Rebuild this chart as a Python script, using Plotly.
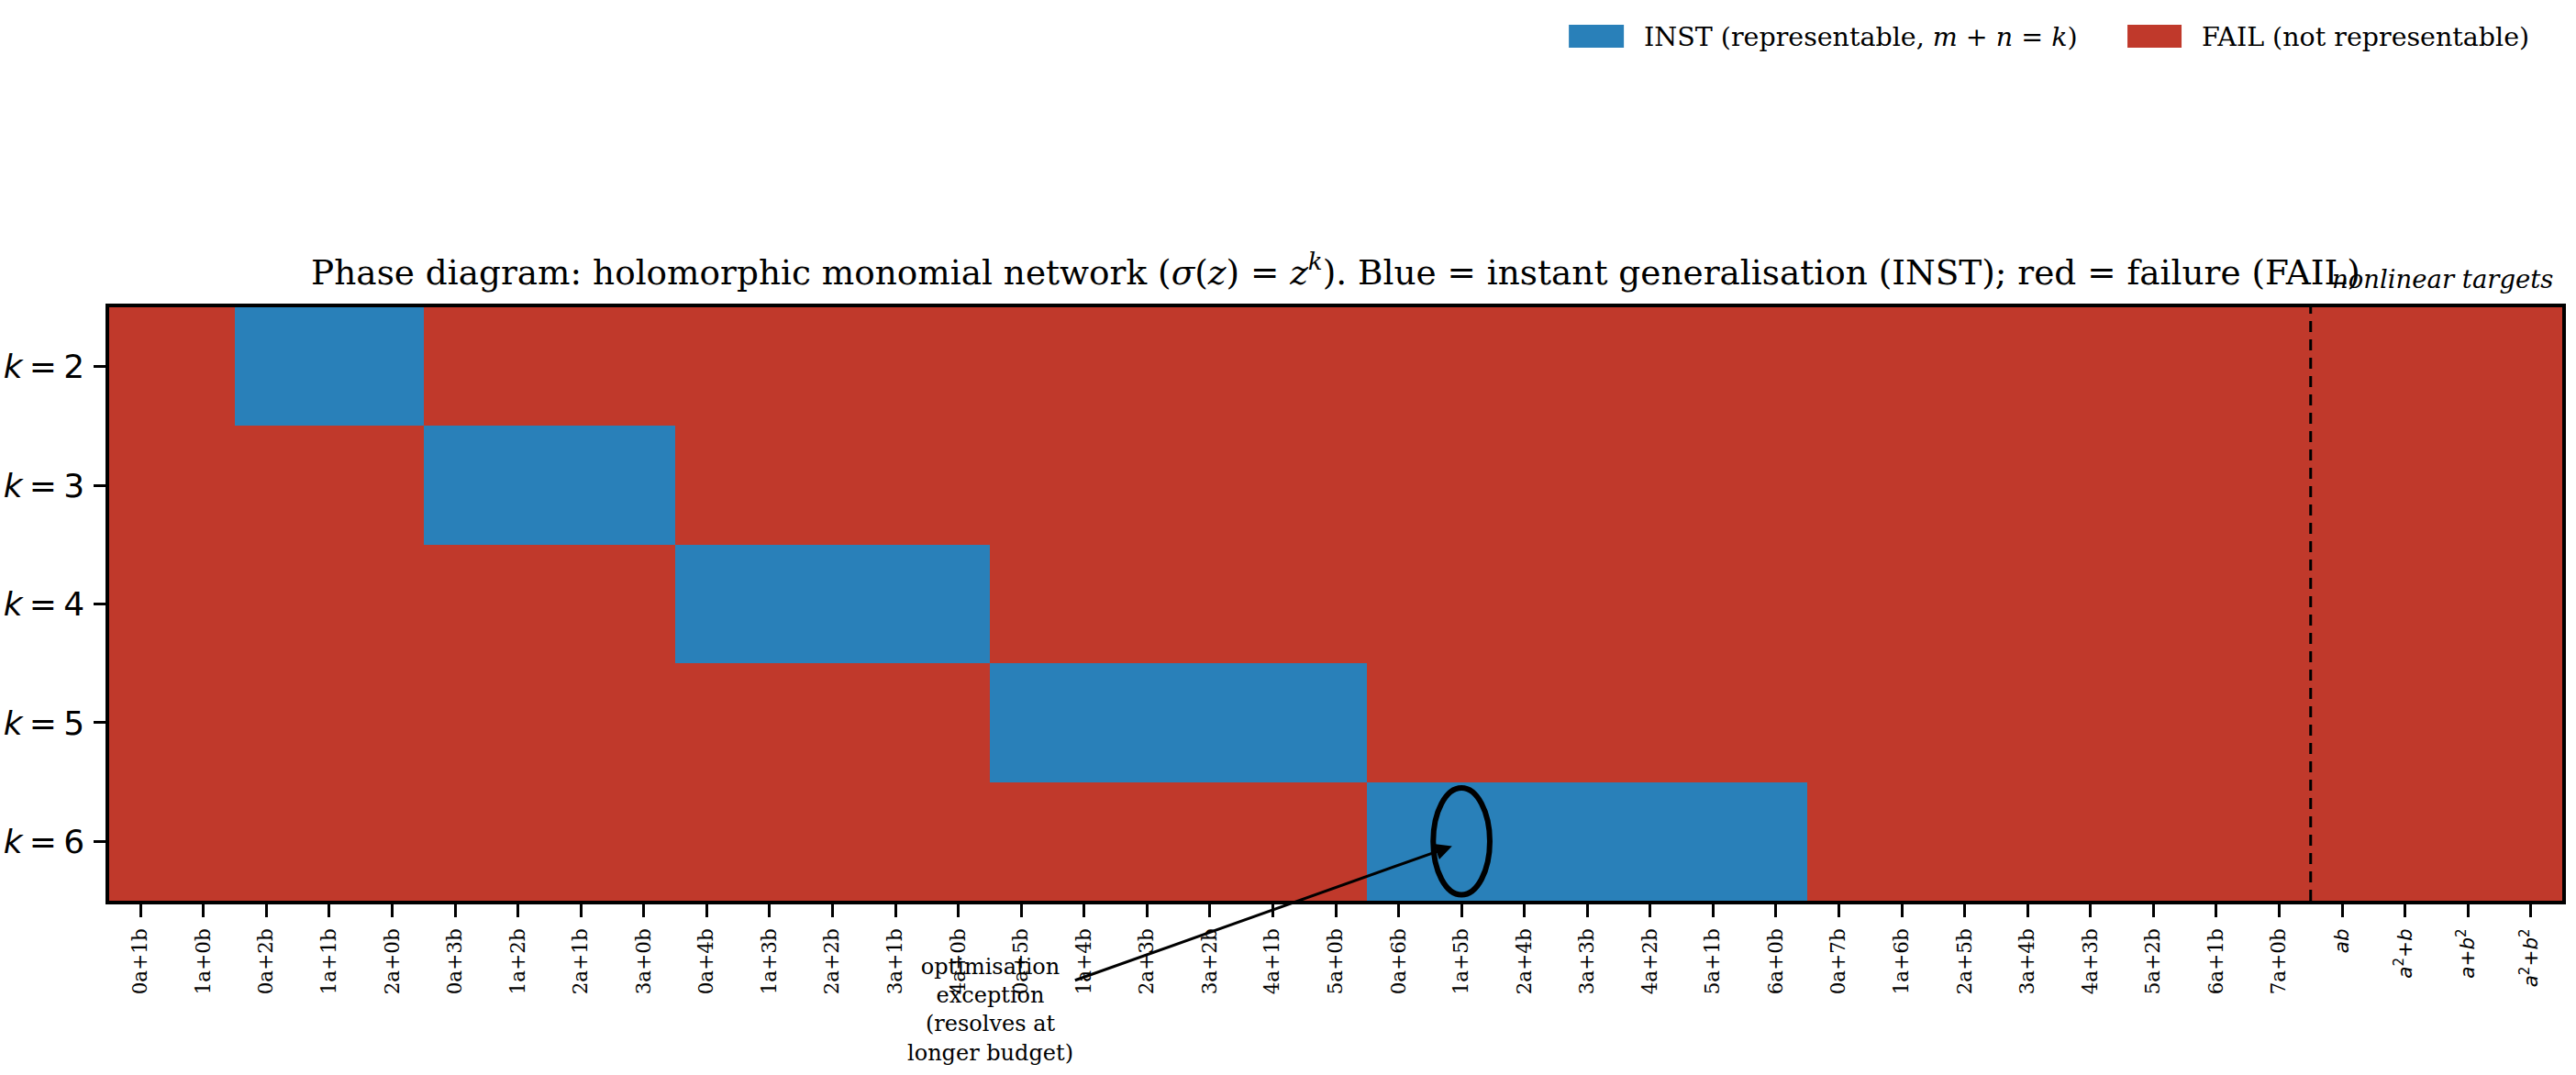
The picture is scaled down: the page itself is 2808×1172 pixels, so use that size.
import plotly.graph_objects as go

# ---- data ----
columns = ["0a+1b", "1a+0b",
           "0a+2b", "1a+1b", "2a+0b",
           "0a+3b", "1a+2b", "2a+1b", "3a+0b",
           "0a+4b", "1a+3b", "2a+2b", "3a+1b", "4a+0b",
           "0a+5b", "1a+4b", "2a+3b", "3a+2b", "4a+1b", "5a+0b",
           "0a+6b", "1a+5b", "2a+4b", "3a+3b", "4a+2b", "5a+1b", "6a+0b",
           "0a+7b", "1a+6b", "2a+5b", "3a+4b", "4a+3b", "5a+2b", "6a+1b", "7a+0b",
           '<span style="font-family:DejaVu Sans"><i>ab</i></span>',
           '<span style="font-family:DejaVu Sans"><i>a</i><sup>2</sup>+<i>b</i></span>',
           '<span style="font-family:DejaVu Sans"><i>a</i>+<i>b</i><sup>2</sup></span>',
           '<span style="font-family:DejaVu Sans"><i>a</i><sup>2</sup>+<i>b</i><sup>2</sup></span>']
row_labels = ["<i>k</i>\u2009=\u20092", "<i>k</i>\u2009=\u20093", "<i>k</i>\u2009=\u20094",
              "<i>k</i>\u2009=\u20095", "<i>k</i>\u2009=\u20096"]
# 1 = INST (blue), 0 = FAIL (red)
status_k2 = [0,0, 1,1,1, 0,0,0,0, 0,0,0,0,0, 0,0,0,0,0,0, 0,0,0,0,0,0,0, 0,0,0,0,0,0,0,0, 0,0,0,0]
status_k3 = [0,0, 0,0,0, 1,1,1,1, 0,0,0,0,0, 0,0,0,0,0,0, 0,0,0,0,0,0,0, 0,0,0,0,0,0,0,0, 0,0,0,0]
status_k4 = [0,0, 0,0,0, 0,0,0,0, 1,1,1,1,1, 0,0,0,0,0,0, 0,0,0,0,0,0,0, 0,0,0,0,0,0,0,0, 0,0,0,0]
status_k5 = [0,0, 0,0,0, 0,0,0,0, 0,0,0,0,0, 1,1,1,1,1,1, 0,0,0,0,0,0,0, 0,0,0,0,0,0,0,0, 0,0,0,0]
status_k6 = [0,0, 0,0,0, 0,0,0,0, 0,0,0,0,0, 0,0,0,0,0,0, 1,1,1,1,1,1,1, 0,0,0,0,0,0,0,0, 0,0,0,0]
status = [status_k2, status_k3, status_k4, status_k5, status_k6]
n_linear = 35            # linear targets before the dashed divider
exception_col = 21       # 1a+5b
exception_row = 4        # k = 6

BLUE = "#2980b9"
RED = "#c0392b"

W, H = 2808, 1172
L, R, T, B = 118.7, 2793, 335, 982

def px_x(p):
    return (p - L) / (R - L)

def px_y(p):
    return (B - p) / (B - T)

xi = list(range(len(columns)))
yi = list(range(len(row_labels)))

fig = go.Figure()
fig.add_trace(go.Heatmap(
    z=status, x=xi, y=yi,
    colorscale=[[0, RED], [0.5, RED], [0.5, BLUE], [1, BLUE]],
    zmin=0, zmax=1, showscale=False, hoverinfo="skip",
))

serif = "DejaVu Serif"
sans = "DejaVu Sans"

fig.update_layout(
    width=W, height=H,
    margin=dict(l=L, r=W - R, t=T, b=H - B, autoexpand=False),
    paper_bgcolor="white", plot_bgcolor="white",
    showlegend=False,
    title=dict(
        text="Phase diagram: holomorphic monomial network (<i>σ</i>(<i>z</i>) = <i>z</i><sup><i>k</i></sup>). "
             "Blue = instant generalisation (INST); red = failure (FAIL)",
        font=dict(family=serif, size=37.4, color="black"),
        x=0.5, xref="paper", xanchor="center",
        y=1 - 297 / H, yref="container", yanchor="middle",
    ),
    xaxis=dict(
        tickmode="array", tickvals=xi, ticktext=columns, tickangle=-90,
        range=[-0.5, len(columns) - 0.5],
        ticks="outside", ticklen=14, tickwidth=3, tickcolor="black",
        tickfont=dict(family=serif, size=21.5, color="black"),
        showline=True, linecolor="black", linewidth=3.5, mirror=True,
        showgrid=False, zeroline=False, automargin=False,
        ticklabelstandoff=4,
    ),
    yaxis=dict(
        tickmode="array", tickvals=yi, ticktext=row_labels,
        range=[len(row_labels) - 0.5, -0.5],
        ticks="outside", ticklen=13, tickwidth=3, tickcolor="black",
        tickfont=dict(family=sans, size=36, color="black"),
        showline=True, linecolor="black", linewidth=3.5, mirror=True,
        showgrid=False, zeroline=False, automargin=False,
        ticklabelstandoff=3,
    ),
)

# dashed divider between linear and nonlinear targets
fig.add_shape(type="line", xref="x", yref="paper",
              x0=n_linear - 0.5, x1=n_linear - 0.5, y0=0, y1=1,
              line=dict(color="black", width=3, dash="12px,8px"))

# ellipse around the exception cell
fig.add_shape(type="circle", xref="x", yref="y",
              x0=exception_col - 0.45, x1=exception_col + 0.45,
              y0=exception_row - 0.45, y1=exception_row + 0.45,
              line=dict(color="black", width=6))

# annotation with arrow
fig.add_annotation(
    x=exception_col - 0.15, y=exception_row + 0.04, xref="x", yref="y",
    text="optimisation<br>exception<br>(resolves at<br>longer budget)",
    showarrow=True, arrowhead=2, arrowsize=1.2, arrowwidth=3, arrowcolor="black",
    ax=-503, ay=179, axref="pixel", ayref="pixel",
    font=dict(family=serif, size=24, color="black"), align="center",
)

# nonlinear targets label
fig.add_annotation(
    x=36.6, y=px_y(304), xref="x", yref="paper",
    text="<i>nonlinear targets</i>", showarrow=False,
    font=dict(family=serif, size=27.5, color="black"),
    xanchor="center", yanchor="middle",
)

# legend (manual patches + text)
legend_items = [("INST (representable, <i>m</i> + <i>n</i> = <i>k</i>)", BLUE, 1710, 1770),
                ("FAIL (not representable)", RED, 2319, 2378)]
for label, color, p0, p1 in legend_items:
    fig.add_shape(type="rect", xref="paper", yref="paper",
                  x0=px_x(p0), x1=px_x(p1), y0=px_y(52), y1=px_y(27),
                  fillcolor=color, line=dict(width=0))
    fig.add_annotation(x=px_x(p1 + 20), y=px_y(40), xref="paper", yref="paper",
                       text=label, showarrow=False, xanchor="left", yanchor="middle",
                       font=dict(family=serif, size=28.5, color="black"))

fig.write_html("out.html")
